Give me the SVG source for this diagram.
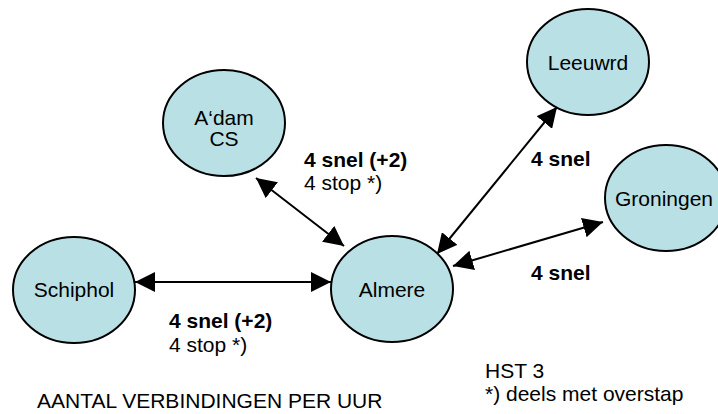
<svg xmlns="http://www.w3.org/2000/svg" width="718" height="414" viewBox="0 0 718 414">
<defs>
<marker id="ah" viewBox="0 0 20 20" refX="20" refY="10" markerWidth="20" markerHeight="20" markerUnits="userSpaceOnUse" orient="auto-start-reverse">
<path d="M0,0 L20,10 L0,20 z" fill="#000"/>
</marker>
<style>
.node{fill:#b9e0e4;stroke:#000;stroke-width:2}
.lbl{font-family:"Liberation Sans",Arial,sans-serif;font-size:21px;fill:#000;text-anchor:middle}
.t{font-family:"Liberation Sans",Arial,sans-serif;font-size:21px;fill:#000}
.b{font-weight:bold}
.edge{stroke:#000;stroke-width:2;fill:none;marker-start:url(#ah);marker-end:url(#ah)}
</style>
</defs>
<rect width="718" height="414" fill="#fff"/>
<g id="connectors">
<line class="edge" x1="135" y1="282" x2="331" y2="282"/>
<line class="edge" x1="256" y1="178" x2="344" y2="246"/>
<line class="edge" x1="557" y1="107" x2="437" y2="254"/>
<line class="edge" x1="603" y1="222" x2="453" y2="266"/>
</g>
<g id="adam"><ellipse class="node" cx="224" cy="123" rx="61" ry="53"/><text class="lbl" x="224" y="125">A‘dam</text><text class="lbl" x="224" y="146">CS</text></g>
<g id="schiphol"><ellipse class="node" cx="74" cy="290" rx="61" ry="53"/><text class="lbl" x="74" y="297">Schiphol</text></g>
<g id="almere"><ellipse class="node" cx="392" cy="289" rx="61" ry="53"/><text class="lbl" x="392" y="297">Almere</text></g>
<g id="leeuwrd"><ellipse class="node" cx="588" cy="62" rx="61" ry="53"/><text class="lbl" x="588" y="70">Leeuwrd</text></g>
<g id="groningen"><ellipse class="node" cx="666" cy="198" rx="61" ry="53"/><text class="lbl" x="664" y="206">Groningen</text></g>
<g id="labels">
<text class="t b" x="304" y="167">4 snel (+2)</text>
<text class="t" x="304" y="190">4 stop *)</text>
<text class="t b" x="531" y="166">4 snel</text>
<text class="t b" x="531" y="280">4 snel</text>
<text class="t b" x="169" y="328">4 snel (+2)</text>
<text class="t" x="169" y="352">4 stop *)</text>
<text class="t" x="485" y="378">HST 3</text>
<text class="t" x="485" y="401">*) deels met overstap</text>
<text class="t" x="37" y="408">AANTAL VERBINDINGEN PER UUR</text>
</g>
</svg>
